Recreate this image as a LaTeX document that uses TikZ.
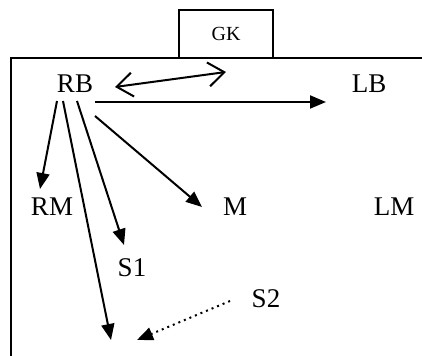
\documentclass[tikz,border=0pt]{standalone}
\usepackage{fontspec}
\setmainfont{Liberation Serif}
\usetikzlibrary{arrows.meta,positioning}

\begin{document}
\begin{tikzpicture}[>={Triangle[length=8pt,width=6.5pt]},x=0.5pt,y=-0.5pt,
  player/.style={font=\fontsize{13.5}{15}\selectfont,inner sep=1pt},
  pass/.style={->,line width=1pt}]

\useasboundingbox (0,0) rectangle (422,356);

% 球門區與門將
\draw[line width=0.7pt] (422,58) -- (11,58) -- (11,356);
\node[draw,line width=0.7pt,minimum width=47pt,minimum height=24pt,
  font=\fontsize{10}{12}\selectfont] (GK) at (226,34) {GK};

% 球員
\node[player] (RB) at (75,84) {RB};
\node[player] (LB) at (369,84) {LB};
\node[player] (RM) at (52,207) {RM};
\node[player] (M) at (235,207) {M};
\node[player] (LM) at (394,207) {LM};
\node[player] (S1) at (132,268) {S1};
\node[player] (S2) at (266,299) {S2};

% 空位
\coordinate (gap) at (226,72);
\coordinate (deep) at (111,340);
\coordinate (run) at (137,340);

% 傳球路線
\draw[line width=1pt,{Straight Barb[length=8pt,width=12pt]}-{Straight Barb[length=8pt,width=12pt]}]
  ([shift={(40,3)}]RB.center) -- (gap);
\draw[pass] ([shift={(20,18)}]RB.center) -- ([shift={(-43,18)}]LB.center);
\draw[pass] ([shift={(-18,17)}]RB.center) -- ([shift={(-12,-18)}]RM.center);
\draw[pass] ([shift={(-12,17)}]RB.center) -- (deep);
\draw[pass] ([shift={(2,17)}]RB.center) -- ([shift={(-8,-23)}]S1.center);
\draw[pass] ([shift={(20,32)}]RB.center) -- ([shift={(-33,0)}]M.center);
\draw[pass,dotted] ([shift={(-36,2)}]S2.center) -- (run);

\end{tikzpicture}
\end{document}
